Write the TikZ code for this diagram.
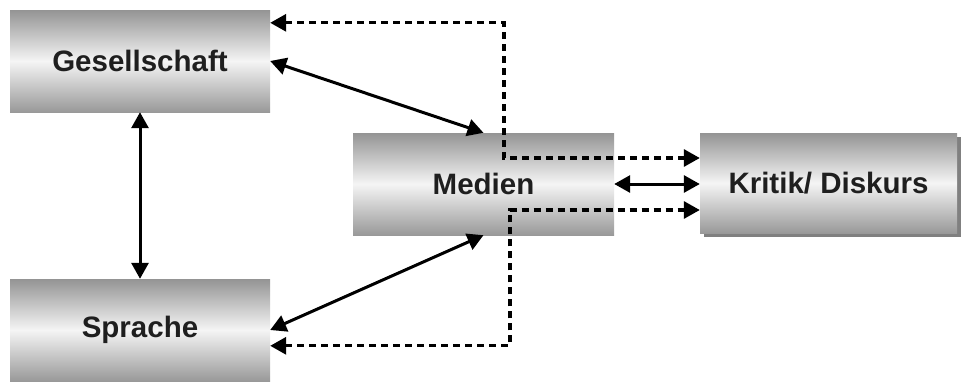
\documentclass[tikz,border=0pt]{standalone}
\usepackage{fontspec}
\setmainfont{Liberation Sans}
\usetikzlibrary{arrows.meta,calc,shadows}
\begin{document}
\begin{tikzpicture}[x=1pt,y=-1pt,
  box/.style={minimum width=260pt, minimum height=102pt, inner sep=0pt,
    top color=black!42, bottom color=black!40, middle color=white!96!black,
    text=black!88, font=\fontsize{29.5}{33}\selectfont\bfseries},
  link/.style={line width=3pt, {Triangle[length=16pt,width=17pt]}-{Triangle[length=16pt,width=17pt]}},
  dlink/.style={link, line width=3.2pt, dash pattern=on 7pt off 5pt}]
  \useasboundingbox (0,0) rectangle (963,381);
  % the four blocks
  \node[box] (ges) at (140,61) {Gesellschaft};
  \node[box] (spr) at (140,330) {Sprache};
  \node[box, minimum width=261pt] (med) at (483.5,184) {Medien};
  \node[box, minimum width=257pt, minimum height=100pt,
    drop shadow={shadow xshift=4pt, shadow yshift=-4pt, fill=black!50, opacity=1}]
    (krit) at (828.5,183) {Kritik/ Diskurs};
  % bends of the dashed feedback lines
  \coordinate (dt) at (504,158);
  \coordinate (db) at (510,210);
  % solid relations
  \draw[link] (ges.south) -- (spr.north);
  \draw[link] (ges.east) -- (med.north);
  \draw[link] (spr.east) -- (med.south);
  \draw[link] (med.east) -- (med.east -| krit.west);
  % dashed relations through the media block
  \draw[dlink] ($(ges.north east)+(0,13)$) -| (dt) -- (dt -| krit.west);
  \draw[dlink] ($(spr.north east)+(0,67)$) -| (db) -- (db -| krit.west);
\end{tikzpicture}
\end{document}
